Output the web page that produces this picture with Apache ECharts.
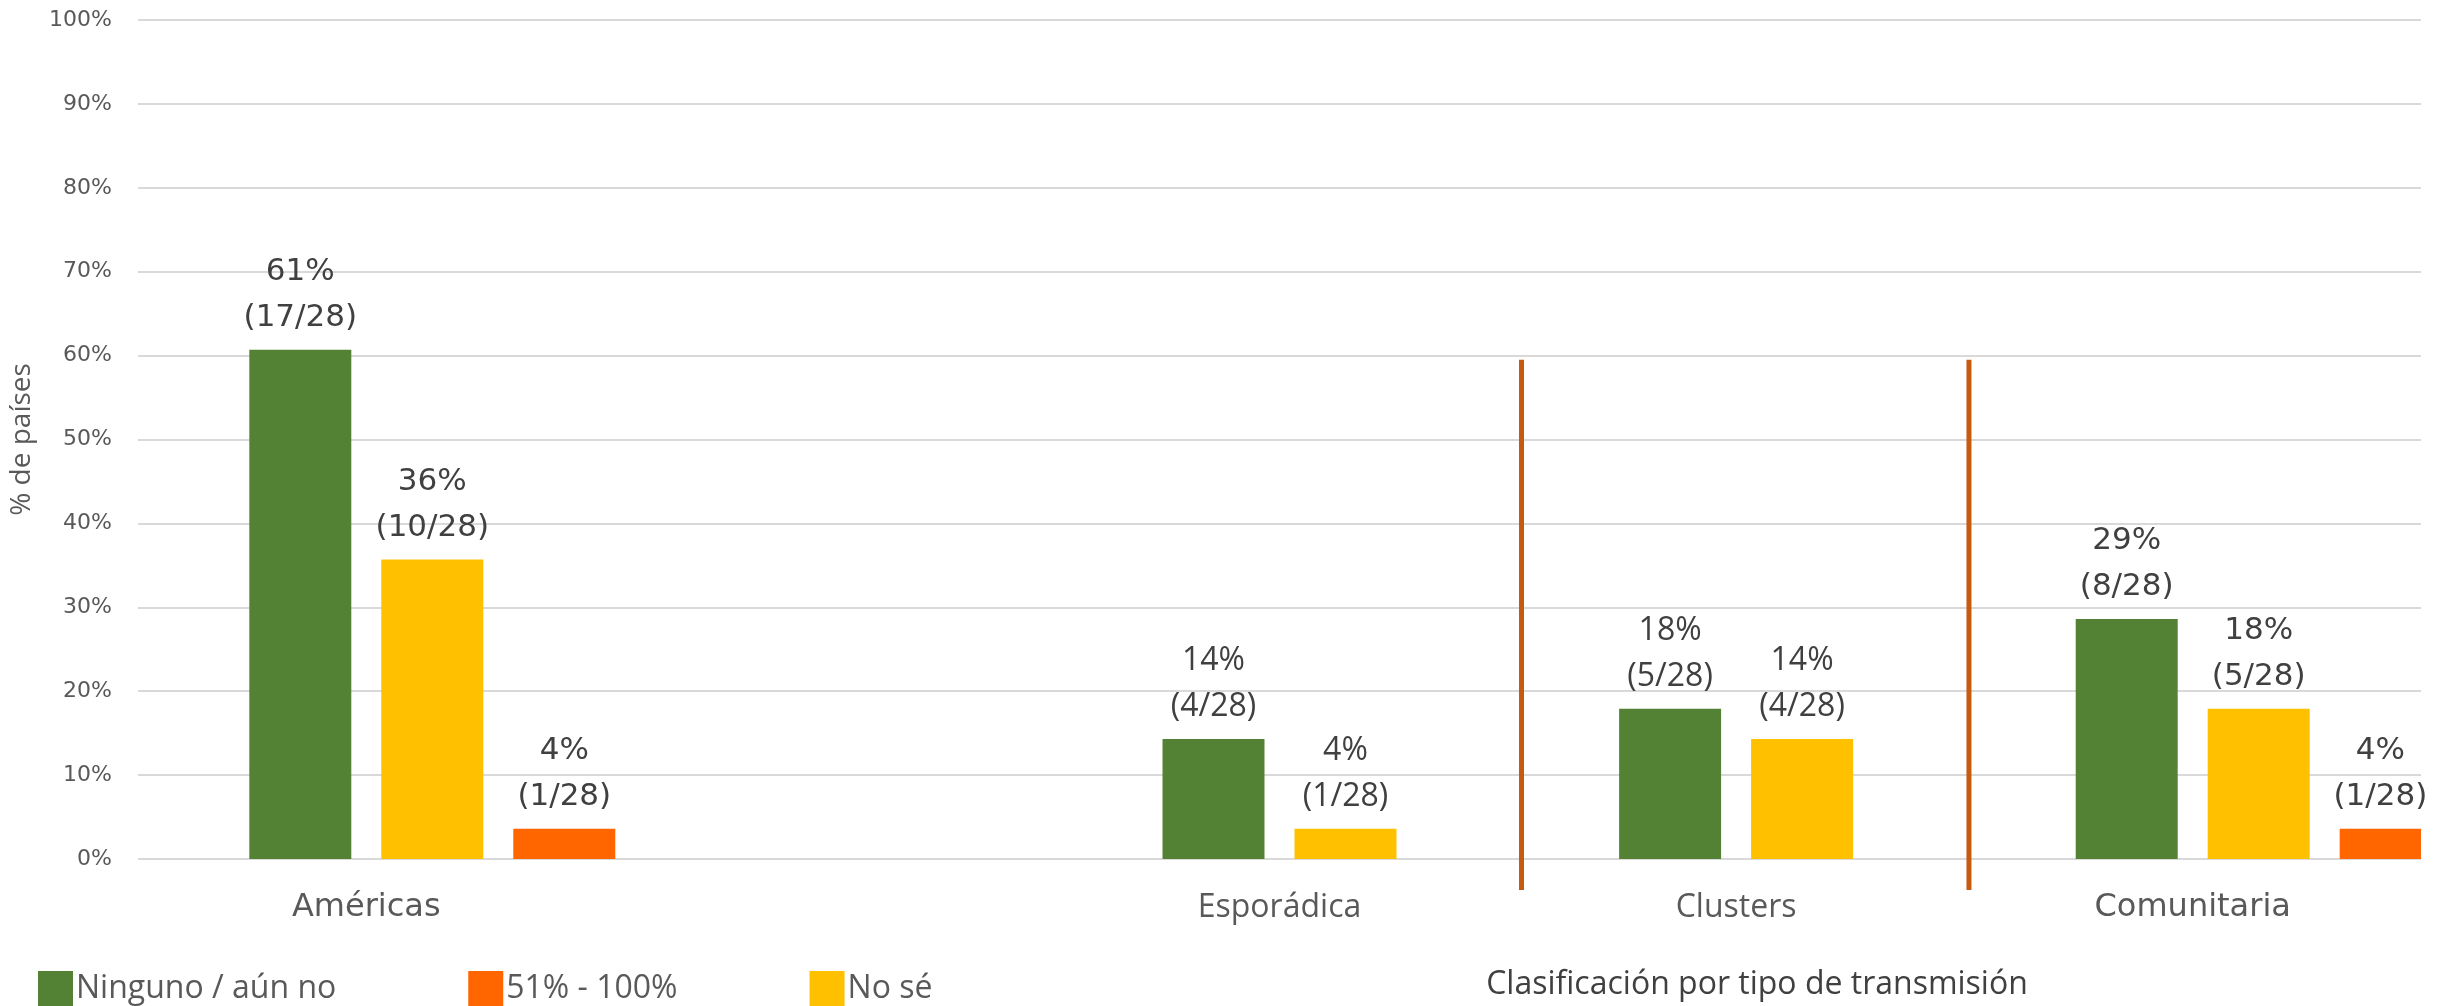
<!DOCTYPE html>
<html>
<head>
<meta charset="utf-8">
<script src="https://cdn.jsdelivr.net/npm/echarts@6/dist/echarts.min.js"></script>
<style>
  html, body { margin: 0; padding: 0; background: #fff; }
  #chart { width: 2440px; height: 1006px; }
</style>
</head>
<body>
<div id="chart"></div>
<script>
// categorias (la segunda queda vacia, como en el original)
var categories = ['Américas', '', 'Esporádica', 'Clusters', 'Comunitaria']
var totalPaises = 28

// % de paises por serie
var ningunoPct = [60.7, null, 14.3, 17.9, 28.6]
var noSePct = [35.7, null, 3.6, 14.3, 17.9]
var altoPct = [3.6, null, null, null, 3.6]

// numero de paises (para la etiqueta)
var ningunoN = [17, null, 4, 5, 8]
var noSeN = [10, null, 1, 4, 5]
var altoN = [1, null, null, null, 1]

var yTicks = { min: 0, max: 100, interval: 10 }

// lineas divisorias, en unidades de categoria (indice)
var dividerAt = [2.53, 3.51]
var dividerRange = [-3.7, 59.5]

// categorias con la fuente estrecha
var narrowCats = ['Esporádica', 'Clusters']

var GREEN = '#548235'
var YELLOW = '#FFC000'
var ORANGE = '#FF6600'

var richStyles = {
  w: { fontFamily: 'DejaVu Sans', fontSize: 31, lineHeight: 46, color: '#404040' },
  n: { fontFamily: 'Open Sans', fontSize: 32, lineHeight: 46, color: '#404040' }
}

function styleKey(idx) {
  return narrowCats.indexOf(categories[idx]) >= 0 ? 'n' : 'w'
}

function barLabel(counts) {
  return {
    show: true,
    position: 'top',
    distance: 9,
    formatter: function(p) {
      var k = styleKey(p.dataIndex)
      return '{' + k + '|' + Math.round(p.value) + '%}\n{' + k + '|(' + counts[p.dataIndex] + '/' + totalPaises + ')}'
    },
    rich: richStyles
  }
}

var barCommon = { type: 'bar', barWidth: 102, barGap: '29.4%' }

var chart = echarts.init(document.getElementById('chart'))
var option = {
  animation: false,
  grid: { left: 138, right: 19, top: 20, bottom: 147 },
  title: {
    text: 'Clasificación por tipo de transmisión',
    left: 1752,
    top: 964,
    textAlign: 'center',
    textStyle: { fontFamily: 'Open Sans', fontSize: 32, fontWeight: 'normal', color: '#404040' }
  },
  legend: {
    data: ['Ninguno / aún no', '51% - 100%', 'No sé'],
    left: 33,
    top: 966,
    icon: 'rect',
    itemWidth: 35,
    itemHeight: 35,
    itemGap: 132,
    textStyle: { fontFamily: 'Open Sans', fontSize: 32, color: '#595959', padding: [0, 0, 0, -2] }
  },
  xAxis: {
    type: 'category',
    data: categories,
    axisLine: { show: false },
    axisTick: { show: false },
    axisLabel: {
      margin: 33,
      formatter: function(v, i) {
        return v ? '{' + styleKey(i) + 'x|' + v + '}' : ''
      },
      rich: {
        wx: { fontFamily: 'DejaVu Sans', fontSize: 32, color: '#595959' },
        nx: { fontFamily: 'Open Sans', fontSize: 32, color: '#595959' }
      }
    }
  },
  yAxis: {
    type: 'value',
    min: yTicks.min,
    max: yTicks.max,
    interval: yTicks.interval,
    name: '% de países',
    nameLocation: 'middle',
    nameRotate: 90,
    nameGap: 102,
    nameTextStyle: { fontFamily: 'Open Sans', fontSize: 28, color: '#595959' },
    axisLabel: {
      formatter: '{value}%',
      margin: 26,
      fontFamily: 'DejaVu Sans',
      fontSize: 22,
      color: '#595959'
    },
    splitLine: { lineStyle: { color: '#D9D9D9', width: 2 } }
  },
  series: [
    // serie vacia: desplaza el grupo a la derecha como en el original
    Object.assign({}, barCommon, { name: 'vacía', data: categories.map(function() { return null }), silent: true }),
    Object.assign({}, barCommon, { name: 'Ninguno / aún no', data: ningunoPct, itemStyle: { color: GREEN }, label: barLabel(ningunoN) }),
    Object.assign({}, barCommon, { name: 'No sé', data: noSePct, itemStyle: { color: YELLOW }, label: barLabel(noSeN) }),
    Object.assign({}, barCommon, { name: '51% - 100%', data: altoPct, itemStyle: { color: ORANGE }, label: barLabel(altoN) })
  ]
}
chart.setOption(option)

// lineas divisorias entre categorias
var x0 = chart.convertToPixel({ xAxisIndex: 0 }, categories[0])
var bandW = chart.convertToPixel({ xAxisIndex: 0 }, categories[1]) - x0
var yTop = chart.convertToPixel({ yAxisIndex: 0 }, dividerRange[1])
var yBot = chart.convertToPixel({ yAxisIndex: 0 }, dividerRange[0])
chart.setOption({
  graphic: dividerAt.map(function(pos) {
    var x = x0 + pos * bandW
    return {
      type: 'line',
      shape: { x1: x, y1: yTop, x2: x, y2: yBot },
      style: { stroke: '#C55A11', lineWidth: 5 },
      z: 10
    }
  })
})
</script>
</body>
</html>
